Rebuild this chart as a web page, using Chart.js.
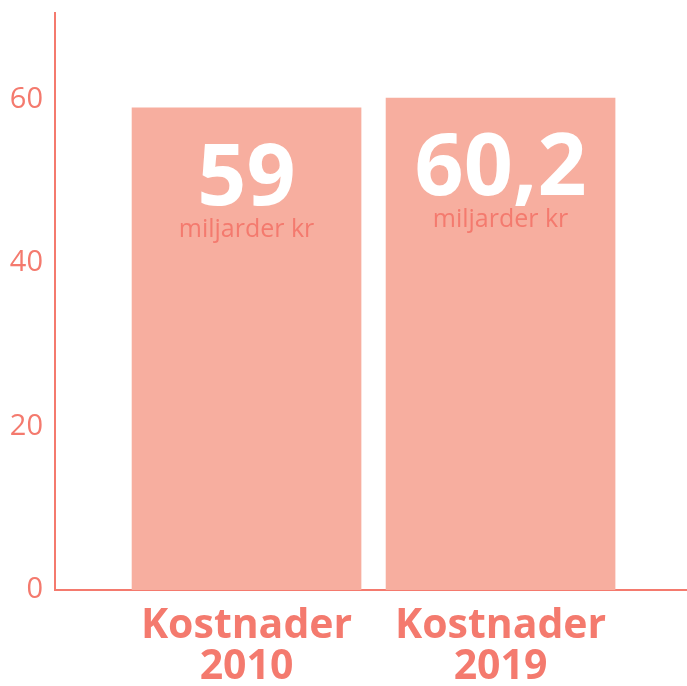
<!DOCTYPE html>
<html>
<head>
<meta charset="utf-8">
<script src="https://cdn.jsdelivr.net/npm/chart.js@4/dist/chart.umd.min.js"></script>
<style>
html, body { margin: 0; padding: 0; background: #fff; }
</style>
</head>
<body>
<canvas id="chart" width="687" height="686"></canvas>
<script>
var categories = [["Kostnader", "2010"], ["Kostnader", "2019"]];
var costs = [59, 60.2];
var valueLabels = ["59", "60,2"];
var unitLabel = "miljarder kr";
var yTicks = [0, 20, 40, 60];

var textColor = "#f47a6e";
var barColor = "#f7ae9f";

// big white numbers + unit inside each bar
var barLabels = {
    id: "barLabels",
    afterDatasetsDraw: function(chart) {
        var ctx = chart.ctx;
        var meta = chart.getDatasetMeta(0);
        meta.data.forEach(function(bar, i) {
            ctx.save();
            ctx.textAlign = "center";
            ctx.textBaseline = "alphabetic";
            ctx.fillStyle = "#ffffff";
            ctx.font = "bold 86px 'Open Sans'";
            ctx.fillText(valueLabels[i], bar.x, bar.y + 97);
            ctx.fillStyle = textColor;
            ctx.font = "25px 'Open Sans'";
            ctx.fillText(unitLabel, bar.x, bar.y + 129);
            ctx.restore();
        });
    }
};

var points = costs.map(function(v, i) { return { x: i, y: v }; });

new Chart(document.getElementById("chart"), {
    type: "bar",
    data: {
        datasets: [{
            data: points,
            backgroundColor: barColor,
            borderWidth: 0,
            barThickness: 229
        }]
    },
    options: {
        responsive: false,
        animation: false,
        devicePixelRatio: 1,
        layout: { padding: { top: 13, right: 0, left: 0, bottom: 0 } },
        plugins: {
            legend: { display: false },
            tooltip: { enabled: false }
        },
        scales: {
            x: {
                type: "linear",
                offset: false,
                min: -0.754,
                max: 1.734,
                afterBuildTicks: function(scale) {
                    scale.ticks = categories.map(function(c, i) { return { value: i }; });
                },
                afterFit: function(scale) {
                    scale.height = 96;
                    scale.paddingLeft = 0;
                    scale.paddingRight = 0;
                },
                grid: { display: false, drawTicks: false, offset: false },
                border: { display: true, color: textColor, width: 2 },
                ticks: {
                    autoSkip: false,
                    maxRotation: 0,
                    padding: 16,
                    color: textColor,
                    font: { family: "'Open Sans'", size: 41, weight: "bold", lineHeight: 1.0 },
                    callback: function(value) { return categories[value]; }
                }
            },
            y: {
                min: 0,
                max: 70.6,
                afterBuildTicks: function(scale) {
                    scale.ticks = yTicks.map(function(v) { return { value: v }; });
                },
                afterFit: function(scale) {
                    scale.width = 55;
                    scale.paddingTop = 0;
                    scale.paddingBottom = 0;
                },
                grid: { display: false, drawTicks: false },
                border: { display: true, color: textColor, width: 2 },
                ticks: {
                    padding: 12,
                    color: textColor,
                    font: { family: "'Open Sans'", size: 29, weight: "normal" }
                }
            }
        }
    },
    plugins: [barLabels]
});
</script>
</body>
</html>
